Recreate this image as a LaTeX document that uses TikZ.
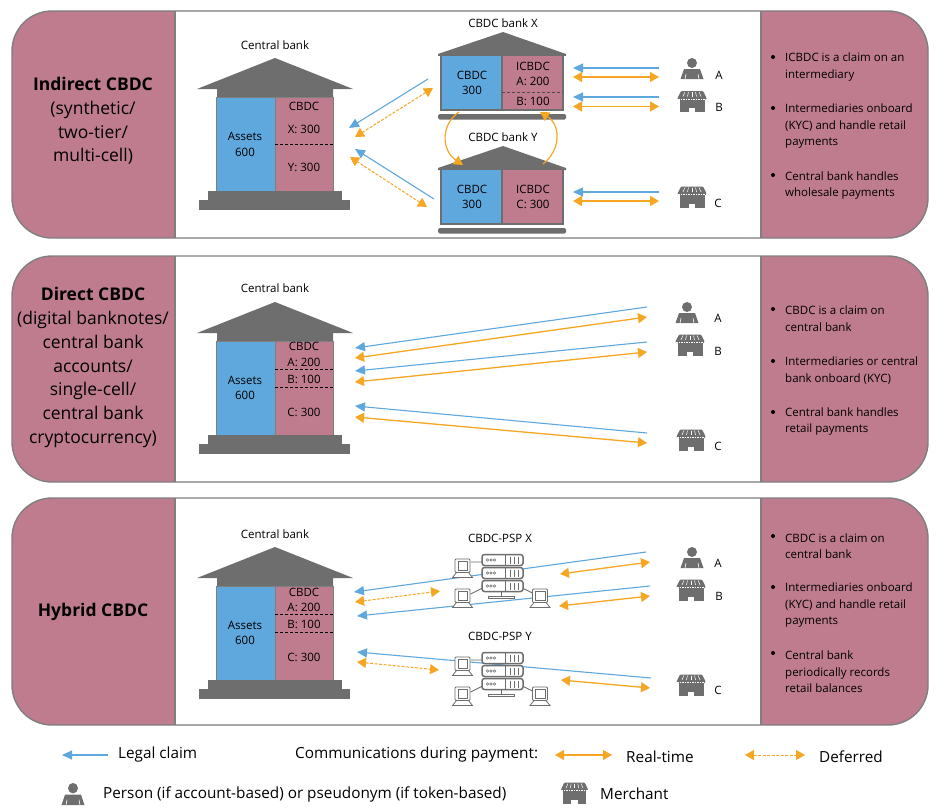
\documentclass[tikz,border=0pt]{standalone}
\usepackage{fontspec}
\setmainfont{Open Sans}
\usetikzlibrary{arrows.meta}
\definecolor{pinkc}{HTML}{BE7C8E}
\definecolor{bluec}{HTML}{5FA8DE}
\definecolor{goldc}{HTML}{F5A623}
\definecolor{grayc}{HTML}{6E6E6E}
\definecolor{linec}{HTML}{7F7F7F}
\tikzset{
	lab/.style={font=\fontsize{11.5}{15.5}\selectfont,inner sep=0pt,align=center},
	small/.style={font=\fontsize{11.5}{16.5}\selectfont,inner sep=0pt,align=left,anchor=west},
	title/.style={font=\fontsize{17.5}{23.8}\selectfont,inner sep=0pt,align=center},
	legend/.style={font=\fontsize{15.3}{18}\selectfont,inner sep=0pt,anchor=west},
	claimarr/.style={-{Stealth[length=10pt,width=9pt,inset=0pt]},draw=bluec,line width=1.1pt},
	realarr/.style={{Stealth[length=9pt,width=10pt,inset=0pt]}-{Stealth[length=9pt,width=10pt,inset=0pt]},draw=goldc,line width=1.3pt},
	curvearr/.style={-{Stealth[length=9pt,width=10pt,inset=0pt]},draw=goldc,line width=1.2pt},
	dasharr/.style={realarr,line width=1pt,dash pattern=on 3pt off 1.5pt},
	bigbank/.pic={
		\fill[grayc] (0,-47) -- (78,-16) -- (58,-16) -- (58,-8) -- (-58,-8) -- (-58,-16) -- (-78,-16) -- cycle;
		\fill[bluec] (-59,-8) rectangle (0,86);
		\fill[pinkc] (0,-8) rectangle (58,86);
		\draw[linec,line width=1pt] (-59,-8) rectangle (58,86) (0,-8) -- (0,86);
		\fill[grayc] (-67,86) rectangle (67,94.5);
		\fill[grayc] (-76,94.5) rectangle (75,104.5);
	},
	smallbank/.pic={
		\fill[grayc] (0,-23) -- (63,-1) -- (63,1) -- (-65,1) -- (-65,-1) -- cycle;
		\fill[bluec] (-62,0) rectangle (-1,55);
		\fill[pinkc] (-1,0) rectangle (60,55);
		\draw[grayc,line width=1.5pt] (-62,0) rectangle (60,55) (-1,0) -- (-1,55);
		\fill[grayc,rounded corners=1.5pt] (-65,59) rectangle (63,64.5);
	},
	person/.pic={
		\fill[grayc] (0,-6) circle (5);
		\fill[grayc] (-11.5,10) -- (-8,0) -- (8,0) -- (11.5,10) -- cycle;
		\draw[white,line width=.6pt] (-7,10.2) -- (-6,5) (7,10.2) -- (6,5);
	},
	shop/.pic={
		\fill[grayc,rounded corners=1pt] (-11,-10.5) -- (11,-10.5) -- (14.5,-3.5) -- (14.5,-2) -- (-14.5,-2) -- (-14.5,-3.5) -- cycle;
		\fill[grayc] (-12.5,-3) rectangle (12.5,10.5);
		\fill[white] (-3.3,6.5) rectangle (3.3,10.5);
		\foreach \k in {-7,-3.5,0,3.5,7} \draw[white,line width=.5pt] (\k,-9.5) -- (1.3*\k,-5);
		\draw[white,line width=.6pt,dash pattern=on 1.5pt off 1pt] (-14,-2.5) -- (14,-2.5);
	},
	laptop/.pic={
		\filldraw[fill=white,draw=grayc,line width=.9pt,rounded corners=1pt] (-7.5,-9.5) rectangle (7.5,4);
		\draw[grayc,line width=.8pt] (-4.5,-7) rectangle (5,1.5);
		\filldraw[fill=white,draw=grayc,line width=.8pt] (-6,4) -- (6,4) -- (10,9) -- (-10,9) -- cycle;
	},
	serverunit/.pic={
		\filldraw[fill=white,draw=grayc,line width=1.5pt,rounded corners=2.5pt] (-20.5,-5.5) rectangle (20.5,5.5);
		\draw[grayc,line width=.5pt] (-15,0) circle (1.2) (-11.5,0) circle (1.2) (-8,0) circle (1.2);
		\draw[grayc,line width=1.2pt] (3,-5.5) -- (3,5.5) (8,-3.5) -- (8,3.5) (12,-3.5) -- (12,3.5) (16,-3.5) -- (16,3.5);
	},
	pspgroup/.pic={
		\draw[grayc,line width=.9pt] (-32,-5) -- (-20,-5) (-32,27) -- (-20,21) (32,27) -- (20,21);
		\draw[grayc,line width=.9pt] (-1,25) -- (-1,29);
		\pic (s1) at (0,-7) {serverunit};
		\pic (s2) at (0,6) {serverunit};
		\pic (s3) at (0,19) {serverunit};
		\filldraw[fill=white,draw=grayc,line width=.8pt] (-14,29) rectangle (12,31.5);
		\pic (l1) at (-40,1.5) {laptop};
		\pic (l2) at (-40,31.5) {laptop};
		\pic (l3) at (37.5,31.5) {laptop};
	},
}
\newcommand{\panelbox}[2]{
	\fill[pinkc,rounded corners=40pt] (12,#1) rectangle (928,#2);
	\fill[white] (175,#1) rectangle (761,#2);
	\draw[linec,line width=1.4pt,rounded corners=40pt] (12,#1) rectangle (928,#2);
	\draw[linec,line width=1.4pt] (175,#1) -- (175,#2) (761,#1) -- (761,#2);
}
\begin{document}
\begin{tikzpicture}[x=1pt,y=-1pt]
	\useasboundingbox (0,0) rectangle (949,808);
	% panels
	\panelbox{11}{238}
	\panelbox{256}{482}
	\panelbox{498}{725}
	% titles
	\node[title] (indirect) at (93,121) {\textbf{Indirect CBDC}\\(synthetic/\\two-tier/\\multi-cell)};
	\node[title] (direct) at (93,367.5) {\textbf{Direct CBDC}\\(digital banknotes/\\central bank\\accounts/\\single-cell/\\central bank\\cryptocurrency)};
	\node[title] (hybrid) at (93,612) {\textbf{Hybrid CBDC}};
	% indirect: banks
	\pic (cbone) at (275,105) {bigbank};
	\node[lab] (cbonet) at (275,45) {Central bank};
	\node[lab] (cbonea) at (245,144.5) {Assets\\600};
	\node[lab] (cbonec) at (304,106) {CBDC};
	\node[lab] (cbonex) at (304,129) {X: 300};
	\node[lab] (cboney) at (304,167) {Y: 300};
	\draw[densely dashed,line width=.8pt] (275,144) -- (333,144);
	\pic (bankx) at (503,55) {smallbank};
	\pic (banky) at (503,169) {smallbank};
	\node[lab] (bankxt) at (503,23) {CBDC bank X};
	\node[lab] (bankyt) at (503,137) {CBDC bank Y};
	\node[lab] (bankxa) at (472,83) {CBDC\\300};
	\node[lab] (bankxb) at (533,74) {ICBDC\\A: 200};
	\node[lab] (bankxc) at (533,101) {B: 100};
	\node[lab] (bankya) at (472,197) {CBDC\\300};
	\node[lab] (bankyb) at (533,197) {ICBDC\\C: 300};
	\draw[densely dashed,line width=.6pt,black!70] (502,92) -- (563,92);
	% indirect: customers
	\pic (pa) at (692,69) {person};
	\pic (sb) at (692,101.5) {shop};
	\pic (sc) at (692,197) {shop};
	\node[lab] (la) at (719,75) {A};
	\node[lab] (lb) at (719,107) {B};
	\node[lab] (lc) at (718,203) {C};
	\foreach \n/\xa/\ya/\xb/\yb in {a/428/79/349/128, b/434/199/355/149, c/659/68/573/68, d/659/97/573/97, e/659/192/573/192}{
		\coordinate (cl\n a) at (\xa,\ya);
		\coordinate (cl\n b) at (\xb,\yb);
		\draw[claimarr] (cl\n a) -- (cl\n b);
	}
	\foreach \n/\xa/\ya/\xb/\yb in {a/573/77/659/77, b/573/106.5/659/106.5, c/573/201/659/201}{
		\coordinate (re\n a) at (\xa,\ya);
		\coordinate (re\n b) at (\xb,\yb);
		\draw[realarr] (re\n a) -- (re\n b);
	}
	\coordinate (daa) at (433,88);
	\coordinate (dab) at (355,137);
	\coordinate (dba) at (427,207);
	\coordinate (dbb) at (350,157);
	\draw[dasharr] (daa) -- (dab);
	\draw[dasharr] (dba) -- (dbb);
	\coordinate (cua) at (459,112);
	\coordinate (cub) at (463,165);
	\coordinate (cuc) at (543,164);
	\coordinate (cud) at (540,112);
	\draw[curvearr] (cua) .. controls (441,124) and (441,150) .. (cub);
	\draw[curvearr] (cuc) .. controls (561,150) and (561,125) .. (cud);
	% direct
	\pic (cbtwo) at (275,349) {bigbank};
	\node[lab] (cbtwot) at (275,288) {Central bank};
	\node[lab] (cbtwoa) at (245,388) {Assets\\600};
	\node[lab] (cbtwoc) at (304,354.5) {CBDC\\A: 200};
	\node[lab] (cbtwob) at (304,379) {B: 100};
	\node[lab] (cbtwod) at (304,412) {C: 300};
	\draw[densely dashed,line width=.8pt] (275,369) -- (333,369) (275,387) -- (333,387);
	\pic (pat) at (687,313) {person};
	\pic (sbt) at (690,345) {shop};
	\pic (sct) at (691,440) {shop};
	\node[lab] (lat) at (718,318) {A};
	\node[lab] (lbt) at (718,351) {B};
	\node[lab] (lct) at (718,446) {C};
	\foreach \n/\xa/\ya/\xb/\yb in {f/647/307/355/348, g/647/342/355/371, h/647/433/355/406}{
		\coordinate (cl\n a) at (\xa,\ya);
		\coordinate (cl\n b) at (\xb,\yb);
		\draw[claimarr] (cl\n a) -- (cl\n b);
	}
	\foreach \n/\xa/\ya/\xb/\yb in {d/355/358/647/317, e/355/382/647/352, f/355/417/647/443}{
		\coordinate (re\n a) at (\xa,\ya);
		\coordinate (re\n b) at (\xb,\yb);
		\draw[realarr] (re\n a) -- (re\n b);
	}
	% hybrid
	\pic (cbthree) at (275,594) {bigbank};
	\node[lab] (cbthreet) at (275,534) {Central bank};
	\node[lab] (cbthreea) at (245,633) {Assets\\600};
	\node[lab] (cbthreec) at (304,600) {CBDC\\A: 200};
	\node[lab] (cbthreeb) at (304,624) {B: 100};
	\node[lab] (cbthreed) at (304,657) {C: 300};
	\draw[densely dashed,line width=.8pt] (275,614) -- (333,614) (275,632) -- (333,632);
	\foreach \n/\xa/\ya/\xb/\yb in {i/646/552/354/592, j/650/586/357/616, k/651/678/357/652}{
		\coordinate (cl\n a) at (\xa,\ya);
		\coordinate (cl\n b) at (\xb,\yb);
		\draw[claimarr] (cl\n a) -- (cl\n b);
	}
	\pic (pspx) at (502.5,567) {pspgroup};
	\pic (pspy) at (502.5,665) {pspgroup};
	\node[lab] (pspxt) at (500,538) {CBDC-PSP X};
	\node[lab] (pspyt) at (500,636) {CBDC-PSP Y};
	\foreach \n/\xa/\ya/\xb/\yb in {g/560/574/650/562, h/559/606/650/596, i/561/680/650/688}{
		\coordinate (re\n a) at (\xa,\ya);
		\coordinate (re\n b) at (\xb,\yb);
		\draw[realarr] (re\n a) -- (re\n b);
	}
	\coordinate (dca) at (355,602);
	\coordinate (dcb) at (440,591);
	\coordinate (dda) at (357,662);
	\coordinate (ddb) at (439,670);
	\draw[dasharr] (dca) -- (dcb);
	\draw[dasharr] (dda) -- (ddb);
	\pic (pah) at (692,558) {person};
	\pic (sbh) at (691,590) {shop};
	\pic (sch) at (691,685) {shop};
	\node[lab] (lah) at (718,563) {A};
	\node[lab] (lbh) at (719,596) {B};
	\node[lab] (lch) at (718,690) {C};
	% right column
	\foreach \n/\yy/\yb/\txt in {
		a/67/57/{ICBDC is a claim on an\\intermediary},
		b/126.5/108/{Intermediaries onboard\\(KYC) and handle retail\\payments},
		c/185.5/175/{Central bank handles\\wholesale payments},
		d/318.5/309/{CBDC is a claim on\\central bank},
		e/370.5/361/{Intermediaries or central\\bank onboard (KYC)},
		f/421.5/412/{Central bank handles\\retail payments},
		g/546/536/{CBDC is a claim on\\central bank},
		h/605.5/587/{Intermediaries onboard\\(KYC) and handle retail\\payments},
		i/672/653/{Central bank\\periodically records\\retail balances}}{
		\fill (773,\yb) circle (2);
		\node[small] (side\n) at (785,\yy) {\txt};
	}
	% legend
	\coordinate (lga) at (108,755);
	\coordinate (lgb) at (62,755);
	\coordinate (lgc) at (555,755);
	\coordinate (lgd) at (612,755);
	\coordinate (lge) at (745,755);
	\coordinate (lgf) at (805,755);
	\draw[claimarr] (lga) -- (lgb);
	\draw[realarr] (lgc) -- (lgd);
	\draw[dasharr] (lge) -- (lgf);
	\node[legend] (lgclaim) at (118,755) {Legal claim};
	\node[legend] (lgcomm) at (295,755) {Communications during payment:};
	\node[legend] (lgreal) at (626,756.5) {Real-time};
	\node[legend] (lgdefer) at (819,756.5) {Deferred};
	\pic[yscale=1.05] (lgperson) at (73,794.5) {person};
	\pic[xscale=.93] (lgshop) at (574.5,793) {shop};
	\node[legend] (lgptxt) at (103,794) {Person (if account-based) or pseudonym (if token-based)};
	\node[legend] (lgmtxt) at (600,794) {Merchant};
\end{tikzpicture}
\end{document}
